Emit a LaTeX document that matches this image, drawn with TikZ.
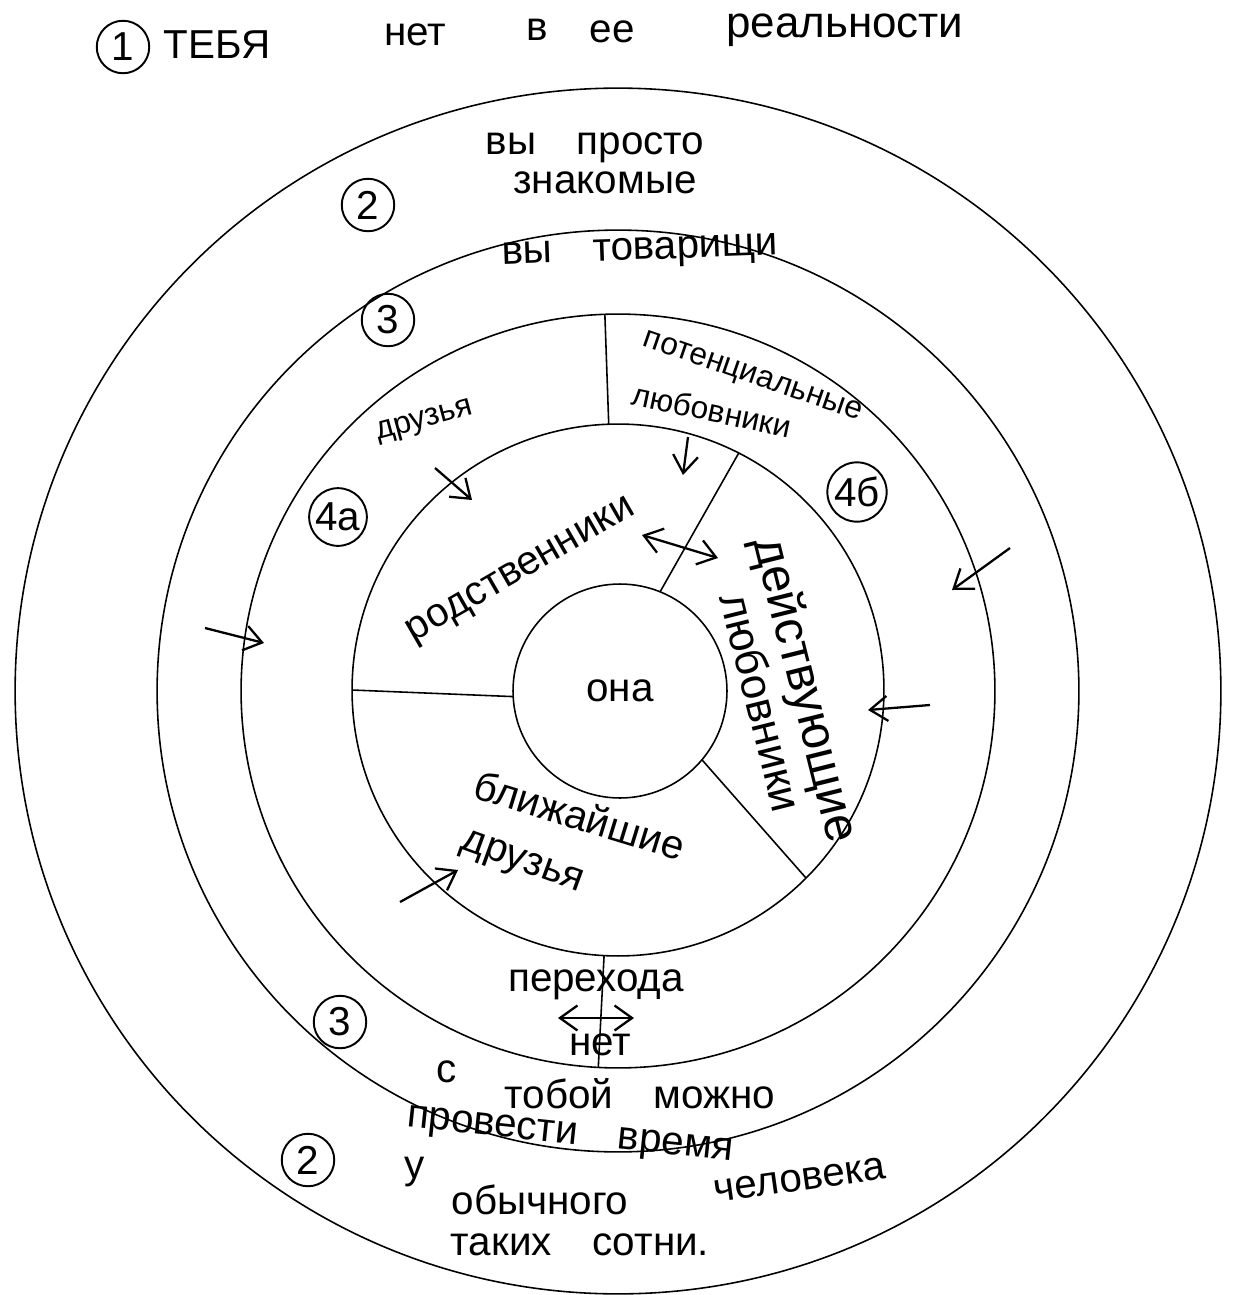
\documentclass[tikz,border=0pt]{standalone}
\usepackage{fontspec}
\setmainfont{Liberation Sans}
\usetikzlibrary{arrows.meta}

\begin{document}
\begin{tikzpicture}[x=0.02cm, y=-0.02cm,
	every node/.style={font=\fontsize{23}{27}\selectfont, inner sep=1pt},
	ring/.style={draw, circle, line width=0.9pt, inner sep=0pt, outer sep=0pt},
	num/.style={draw, circle, line width=1.1pt, inner sep=1pt, minimum size=1.05cm},
	note/.style={font=\fontsize{18}{22}\selectfont},
	wall/.style={line width=0.9pt},
	hint/.style={line width=1.3pt, -{Straight Barb[length=3.5mm, width=5mm]}},
	both/.style={line width=1.3pt, {Straight Barb[length=3.5mm, width=5mm]}-{Straight Barb[length=3.5mm, width=5mm]}}]
	\useasboundingbox (0,0) rectangle (1234,1295);
	\node[ring, minimum size=24.12cm] (c1) at (618,691) {};
	\node[ring, minimum size=18.44cm] (c2) at (618,691) {};
	\node[ring, minimum size=15.08cm] (c3) at (618,691) {};
	\node[ring, minimum size=10.64cm] (c4) at (618,690) {};
	\node[ring, minimum size=4.28cm] (ona) at (620,691) {она};
	\draw[wall] (c4.92) -- (c3.92);
	\draw[wall] (c4.-93) -- (c3.-93);
	\draw[wall] (ona.183) -- (c4.180);
	\draw[wall] (ona.68) -- (c4.63);
	\draw[wall] (ona.-40) -- (c4.-45);
	\node[num] (n1) at (123,47) {1};
	\node (tebya) at (217,45) {ТЕБЯ};
	\node (net) at (415,35) {нет};
	\node (v) at (537,30) {в};
	\node (ee) at (612,32) {ее};
	\node[font=\fontsize{25}{29}\selectfont] (real) at (845,30) {реальности};
	\node (prosto) at (595,148) {вы\quad просто};
	\node (znak) at (605,183) {знакомые};
	\node[num] (n2top) at (368,205) {2};
	\node[rotate=2] (tovar) at (640,253) {вы\quad товарищи};
	\node[num] (n3top) at (388,320) {3};
	\node[note, rotate=15] (druzya) at (425,422) {друзья};
	\node[note, rotate=-19] (potenc) at (752,378) {потенциальные};
	\node[note, rotate=-12] (lubpot) at (712,410) {любовники};
	\node[num] (n4a) at (338,517) {4а};
	\node[num] (n4b) at (857,492) {4б};
	\node[rotate=30] (rodst) at (522,572) {родственники};
	\node[rotate=-76, font=\fontsize{28}{32}\selectfont] (deistv) at (804,690) {действующие};
	\node[rotate=-76, font=\fontsize{25}{29}\selectfont] (lubdei) at (762,702) {любовники};
	\node[rotate=-17] (blizh) at (580,815) {ближайшие};
	\node[rotate=-20] (druzbl) at (522,864) {друзья};
	\node (perehod) at (596,985) {перехода};
	\node (netbot) at (600,1045) {нет};
	\node[num] (n3bot) at (340,1022) {3};
	\node (s) at (447,1072) {с};
	\node (toboi) at (640,1094) {тобой\quad можно};
	\node[rotate=-6] (vremya) at (570,1137) {провести\quad время};
	\node[num] (n2bot) at (308,1160) {2};
	\node (u) at (415,1172) {у};
	\node (obych) at (540,1200) {обычного};
	\node[rotate=8] (chel) at (800,1180) {человека};
	\node (sotni) at (580,1245) {таких\quad сотни.};
	\coordinate (potA) at (688,437);
	\coordinate (potB) at (683,475);
	\coordinate (druA) at (435,468);
	\coordinate (druB) at (472,500);
	\coordinate (lefA) at (205,628);
	\coordinate (lefB) at (264,643);
	\coordinate (rigA) at (1010,548);
	\coordinate (rigB) at (952,590);
	\coordinate (midA) at (930,705);
	\coordinate (midB) at (868,710);
	\coordinate (lowA) at (400,902);
	\coordinate (lowB) at (458,870);
	\coordinate (swA) at (642,535);
	\coordinate (swB) at (718,558);
	\coordinate (noA) at (558,1018);
	\coordinate (noB) at (634,1018);
	\draw[hint] (potA) -- (potB);
	\draw[hint] (druA) -- (druB);
	\draw[hint] (lefA) -- (lefB);
	\draw[hint] (rigA) -- (rigB);
	\draw[hint] (midA) -- (midB);
	\draw[hint] (lowA) -- (lowB);
	\draw[both] (swA) -- (swB);
	\draw[both] (noA) -- (noB);
\end{tikzpicture}
\end{document}
